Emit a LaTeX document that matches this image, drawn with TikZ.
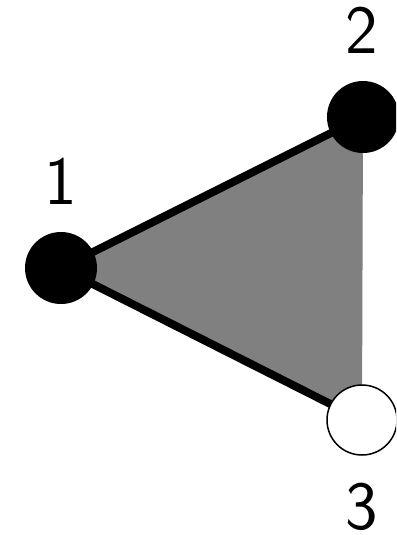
\documentclass[tikz,border=0pt]{standalone}
\begin{document}
\begin{tikzpicture}[x=1pt,y=-1pt,
  vtx/.style={circle,inner sep=0pt,minimum size=72pt},
  filled/.style={vtx,fill=black},
  hollow/.style={vtx,draw=black,line width=1.5pt,fill=white,minimum size=70pt},
  lbl/.style={font=\sffamily\fontsize{69}{69}\selectfont,inner sep=0pt},
  edge/.style={line width=8pt}]
\useasboundingbox (0,0) rectangle (396,535);
\clip (0,0) rectangle (396,535);
\coordinate (c1) at (61,268);
\coordinate (c2) at (363,117);
\coordinate (c3) at (362,420);
\fill[gray] (c1) -- (c2) -- (c3) -- cycle;
\draw[edge] (c1) -- (c2);
\draw[edge] (c1) -- (c3);
\node[filled] (v1) at (c1) {};
\node[filled] (v2) at (c2) {};
\node[hollow] (v3) at (c3) {};
\node[lbl] (l1) at (61,181) {1};
\node[lbl] (l2) at (362,30) {2};
\node[lbl] (l3) at (362,507) {3};
\end{tikzpicture}
\end{document}
